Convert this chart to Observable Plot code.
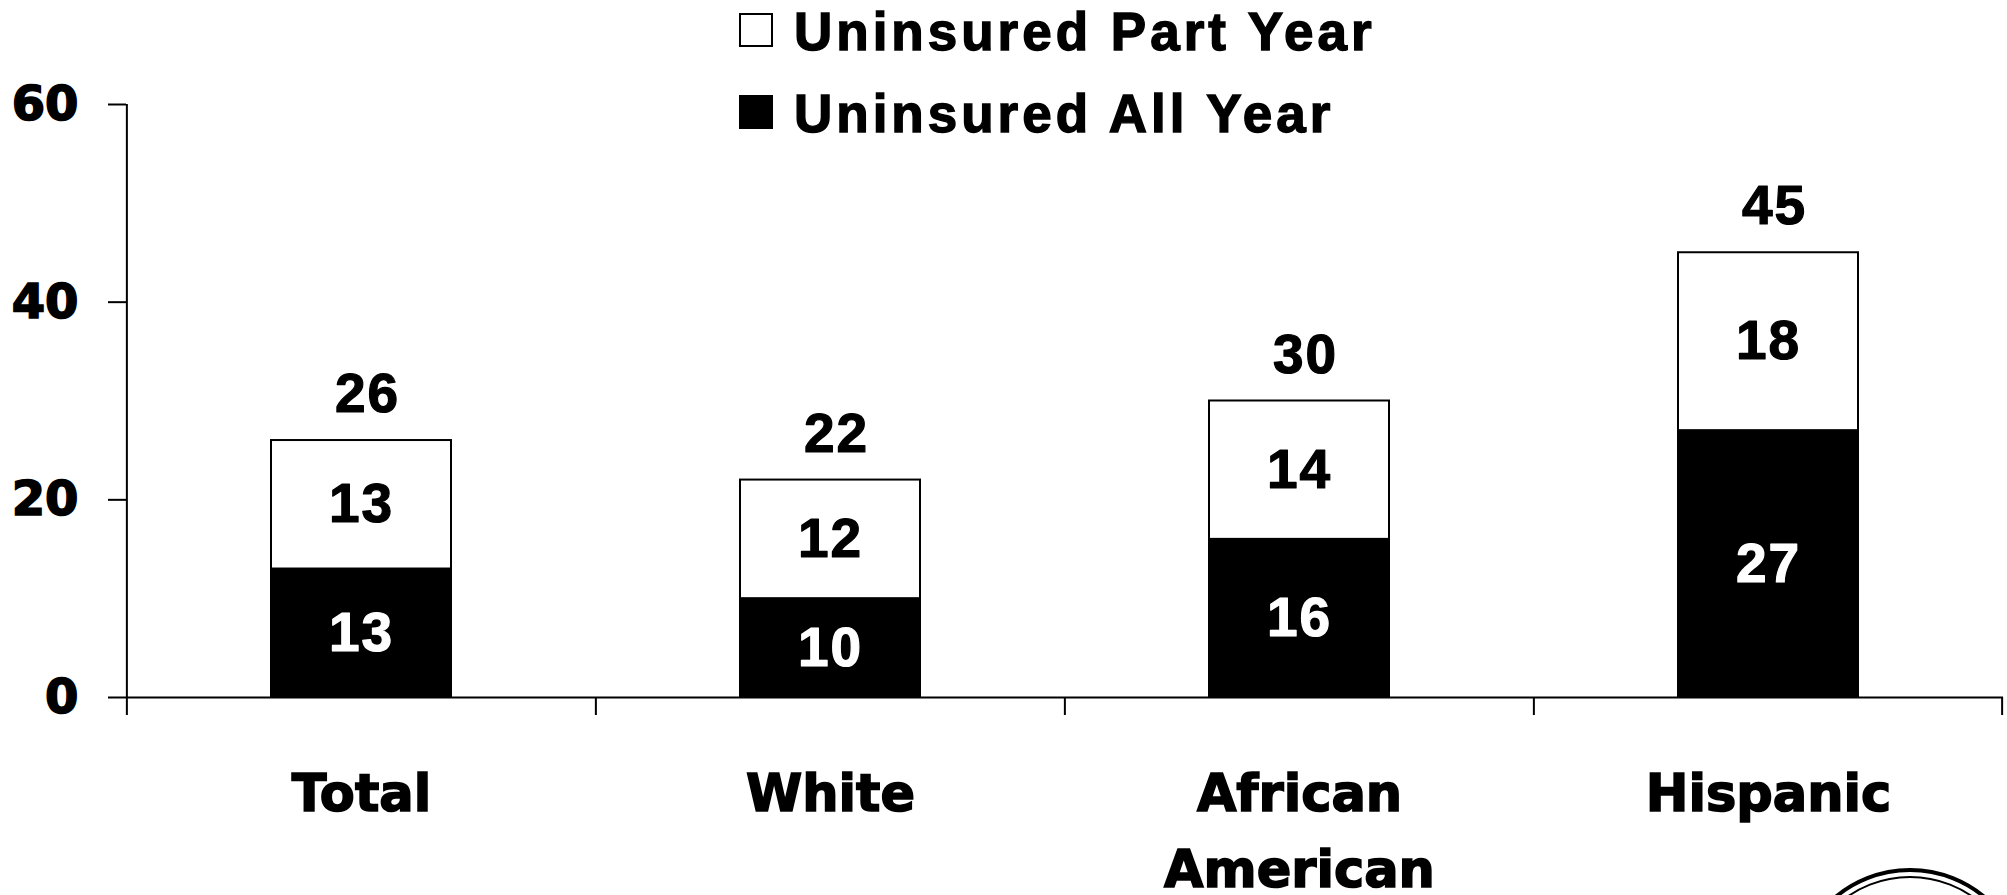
<!DOCTYPE html>
<html><head><meta charset="utf-8">
<script src="https://cdn.jsdelivr.net/npm/d3@7"></script>
<script src="https://cdn.jsdelivr.net/npm/@observablehq/plot@0.6"></script>
<style>
html,body{margin:0;padding:0;background:#fff;}
#wrap{position:relative;width:2007px;height:895px;overflow:hidden;background:#fff;}
#wrap svg{position:absolute;left:0;top:0;}
.ring{position:absolute;border-radius:50%;box-sizing:border-box;border-style:solid;border-color:#000;}
</style></head><body><div id="wrap"></div>
<script>
// ---- data ----
const categories = ["Total", "White", "African\nAmerican", "Hispanic"];
const allYear = [13, 10, 16, 27];
const partYear = [13, 12, 14, 18];
const totals = [26, 22, 30, 45];
const yTicks = [0, 20, 40, 60];
const seriesNames = ["Uninsured All Year", "Uninsured Part Year"];
const seriesColors = ["#000000", "#ffffff"];
const legendOrder = ["Uninsured Part Year", "Uninsured All Year"];

// ---- layout ----
const W = 2007, H = 895;
const mL = 126, mR = 4, mT = 104, mB = 198;
const step = (W - mL - mR) / categories.length;

const rows = [];
categories.forEach((c, i) => {
  rows.push({category: c, series: seriesNames[0], value: allYear[i]});
  rows.push({category: c, series: seriesNames[1], value: partYear[i]});
});
const totalRows = categories.map((c, i) => ({category: c, total: totals[i]}));

const labelFont = "Liberation Sans, Arial, sans-serif";
const heavyFont = "DejaVu Sans, sans-serif";

const chart = Plot.plot({
  width: W, height: H,
  marginLeft: mL, marginRight: mR, marginTop: mT, marginBottom: mB,
  style: {background: "#fff", color: "#000", overflow: "visible"},
  x: {domain: categories, paddingInner: 0.616, paddingOuter: 0.308, label: null},
  y: {domain: [0, 60], label: null},
  color: {domain: seriesNames, range: seriesColors},
  marks: [
    Plot.barY(rows, Plot.stackY({x: "category", y: "value", fill: "series", stroke: "#000", strokeWidth: 2})),
    Plot.text(rows, Plot.stackY({x: "category", y: "value",
      text: d => d.series === seriesNames[0] ? String(d.value) : "",
      fill: "#fff", stroke: "#fff", strokeWidth: 1.2,
      fontSize: 55, fontWeight: "bold", fontFamily: labelFont, className: "vlab"})),
    Plot.text(rows, Plot.stackY({x: "category", y: "value",
      text: d => d.series === seriesNames[1] ? String(d.value) : "",
      fill: "#000", stroke: "#000", strokeWidth: 1.2,
      fontSize: 55, fontWeight: "bold", fontFamily: labelFont, className: "vlab"})),
    Plot.text(totalRows, {x: "category", y: "total", text: d => String(d.total),
      dy: -46, dx: 6, fill: "#000", stroke: "#000", strokeWidth: 1.2,
      fontSize: 55, fontWeight: "bold", fontFamily: labelFont, className: "vlab"}),
    Plot.ruleY([0], {stroke: "#000", strokeWidth: 2}),
    Plot.ruleX([categories[0]], {x: d => d, dx: -step / 2, y1: 60, y2: 0, insetBottom: -18, stroke: "#000", strokeWidth: 2}),
    Plot.ruleX(categories.slice(1), {x: d => d, dx: -step / 2, y1: 0, y2: 0, insetBottom: -18, stroke: "#000", strokeWidth: 2}),
    Plot.ruleX([categories[categories.length - 1]], {x: d => d, dx: step / 2 - 1, y1: 0, y2: 0, insetBottom: -18, stroke: "#000", strokeWidth: 2}),
    Plot.axisY({ticks: yTicks, tickSize: 18, tickPadding: 30, strokeWidth: 2, stroke: "#000", label: null,
      fontSize: 48, fontWeight: "bold", fontFamily: heavyFont, fill: "#000"}),
    Plot.axisX({tickSize: 0, tickPadding: 60, fontSize: 51, fontWeight: "bold", fontFamily: heavyFont,
      lineHeight: 1.48, fill: "#000", label: null})
  ]
});
document.getElementById("wrap").appendChild(chart);

// heavier glyphs (reference uses a black-weight face)
chart.querySelectorAll('g[aria-label="y-axis tick label"], g[aria-label="x-axis tick label"]').forEach(g => {
  g.setAttribute("stroke", "#000");
  g.setAttribute("stroke-width", "1.6");
  g.setAttribute("paint-order", "stroke");
});
chart.querySelectorAll('.vlab').forEach(g => {
  g.setAttribute("style", (g.getAttribute("style") || "") + ";letter-spacing:2px");
});

// ---- legend (overlay) ----
const leg = d3.select("#wrap").append("svg")
  .attr("width", W).attr("height", 150)
  .style("pointer-events", "none");
legendOrder.forEach((name, i) => {
  const color = seriesColors[seriesNames.indexOf(name)];
  const g = leg.append("g").attr("transform", `translate(739,${13 + i * 82})`);
  g.append("rect").attr("x", 1).attr("y", 1).attr("width", 32).attr("height", 32)
    .attr("fill", color).attr("stroke", "#000").attr("stroke-width", 2);
  g.append("text").attr("x", 55).attr("y", 37)
    .attr("font-family", labelFont).attr("font-weight", "bold").attr("font-size", 53)
    .attr("stroke", "#000").attr("stroke-width", 1.4)
    .style("letter-spacing", "4px").attr("fill", "#000").text(name);
});

// ---- decorative logo rings (bottom right, cropped) ----
const wrap = document.getElementById("wrap");
[[1910, 986, 118, 4], [1910, 986, 110, 2]].forEach(([cx, cy, r, bw]) => {
  const d = document.createElement("div");
  d.className = "ring";
  d.style.left = (cx - r) + "px"; d.style.top = (cy - r) + "px";
  d.style.width = (2 * r) + "px"; d.style.height = (2 * r) + "px";
  d.style.borderWidth = bw + "px";
  wrap.appendChild(d);
});
</script>
</body></html>
